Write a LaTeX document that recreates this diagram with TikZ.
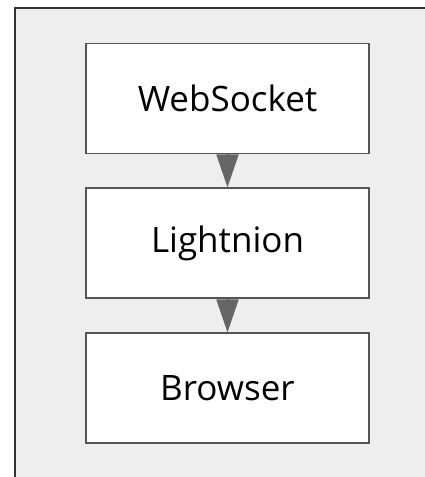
\documentclass[tikz,border=0pt]{standalone}
\usepackage{fontspec}
\setmainfont{Open Sans}
\usetikzlibrary{arrows.meta}
\definecolor{bgfill}{HTML}{EEEEEE}
\definecolor{frameline}{HTML}{333333}
\definecolor{boxline}{HTML}{555555}
\definecolor{arrowcol}{HTML}{666666}
\begin{document}
\begin{tikzpicture}[x=1pt,y=-1pt,
  stepbox/.style={draw=boxline, line width=1.2pt, fill=white, minimum width=283pt, minimum height=110pt, inner sep=0pt, font=\fontsize{35}{42}\selectfont, text=black},
  flow/.style={draw=arrowcol, line width=2pt, -{Triangle[width=22pt,length=33pt]}, color=arrowcol, shorten >=0pt}]
\useasboundingbox (0,0) rectangle (425,477);
\fill[bgfill] (15,8) rectangle (430,480);
\draw[frameline, line width=1.5pt] (15,480) -- (15,8) -- (430,8);
\node[stepbox] (ws) at (227.5,98.5) {WebSocket};
\node[stepbox] (li) at (227.5,243) {Lightnion};
\node[stepbox] (br) at (227.5,388) {Browser};
\draw[flow] (ws.south) -- (li.north);
\draw[flow] (li.south) -- (br.north);
\end{tikzpicture}
\end{document}
